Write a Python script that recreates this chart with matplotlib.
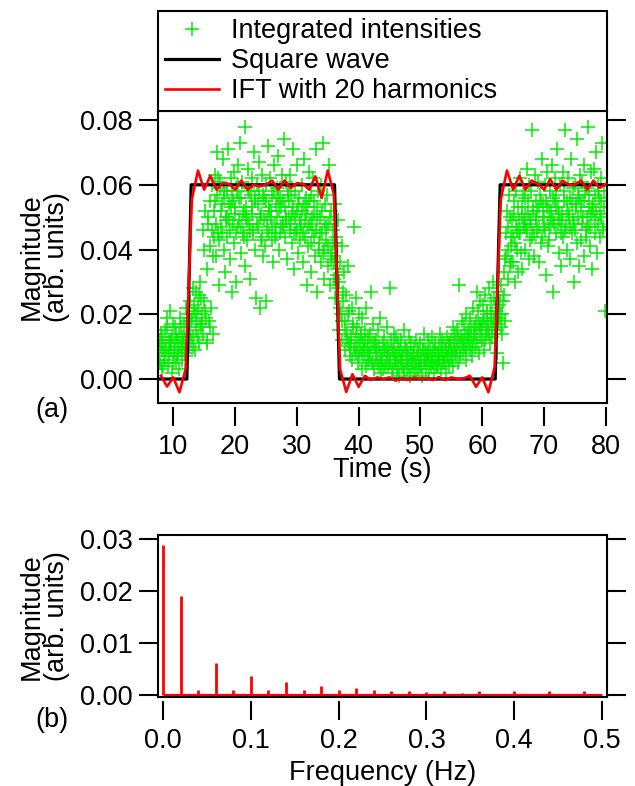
import numpy as np
import matplotlib
matplotlib.use("Agg")
import matplotlib.pyplot as plt

plt.rcParams['font.family'] = ['Liberation Sans', 'DejaVu Sans']

# integrated intensities (units of 0.001), 8 samples per second from 7.6 s to 79.8 s
intens_milli = [
    8, 12, 5, 14, 9, 3, 11, 7,
    15, 6, 10, 19, 4, 12, 8, 21,
    9, 13, 2, 17, 7, 11, 16, 5,
    12, 8, 14, 3, 19, 10, 6, 13,
    11, 17, 9, 22, 7, 14, 18, 10,
    16, 24, 12, 19, 28, 13, 21, 9,
    15, 27, 18, 22, 11, 30, 17, 25,
    20, 46, 14, 24, 52, 19, 34, 12,
    48, 18, 55, 41, 22, 60, 14, 44,
    52, 63, 38, 57, 70, 45, 29, 59,
    61, 47, 54, 68, 40, 56, 33, 50,
    44, 58, 71, 49, 37, 62, 53, 27,
    55, 42, 64, 51, 30, 58, 47, 66,
    49, 73, 56, 39, 61, 45, 52, 35,
    78, 50, 43, 59, 65, 48, 31, 57,
    53, 62, 46, 70, 40, 55, 25, 60,
    47, 58, 67, 22, 51, 44, 63, 38,
    56, 41, 24, 60, 49, 72, 45, 53,
    62, 50, 43, 57, 36, 66, 48, 54,
    45, 59, 69, 52, 40, 56, 47, 63,
    55, 48, 74, 44, 61, 50, 37, 58,
    50, 63, 46, 57, 42, 71, 53, 34,
    58, 45, 52, 66, 39, 56, 49, 43,
    47, 60, 36, 54, 68, 44, 51, 29,
    53, 41, 64, 48, 57, 33, 46, 62,
    44, 55, 38, 71, 49, 27, 58, 42,
    50, 36, 60, 45, 73, 40, 31, 54,
    43, 57, 35, 48, 66, 29, 52, 39,
    38, 46, 31, 54, 25, 42, 34, 49,
    28, 15, 36, 20, 41, 12, 24, 33,
    18, 9, 26, 14, 35, 11, 21, 7,
    13, 22, 6, 17, 47, 10, 25, 8,
    16, 5, 12, 20, 9, 14, 3, 19,
    11, 7, 15, 4, 22, 9, 13, 6,
    8, 14, 27, 5, 11, 17, 3, 10,
    12, 6, 9, 15, 4, 19, 8, 2,
    7, 11, 3, 13, 9, 5, 16, 10,
    4, 9, 28, 6, 12, 2, 8, 14,
    10, 5, 13, 3, 7, 11, 1, 9,
    6, 12, 4, 8, 15, 2, 10, 5,
    3, 9, 7, 13, 1, 6, 11, 4,
    8, 2, 10, 5, 12, 7, 3, 9,
    5, 11, 4, 7, 1, 9, 14, 6,
    9, 3, 6, 12, 8, 2, 10, 4,
    7, 13, 5, 2, 9, 11, 4, 8,
    4, 10, 6, 14, 3, 8, 12, 5,
    11, 5, 9, 2, 13, 7, 4, 10,
    6, 12, 8, 16, 4, 10, 14, 7,
    9, 15, 5, 29, 11, 7, 13, 18,
    12, 8, 17, 10, 20, 6, 14, 11,
    15, 9, 19, 13, 7, 22, 11, 16,
    10, 18, 27, 14, 21, 8, 16, 24,
    17, 12, 23, 9, 19, 26, 14, 20,
    21, 15, 28, 11, 18, 24, 13, 30,
    19, 25, 14, 22, 8, 27, 17, 23,
    24, 16, 29, 20, 5, 26, 33, 18,
    38, 52, 31, 47, 57, 35, 44, 41,
    49, 36, 55, 42, 30, 58, 46, 33,
    53, 45, 62, 39, 50, 34, 57, 48,
    40, 56, 47, 65, 51, 37, 60, 43,
    58, 44, 77, 52, 38, 63, 49, 55,
    46, 61, 53, 36, 57, 42, 68, 50,
    54, 47, 60, 32, 55, 64, 41, 52,
    43, 58, 50, 66, 27, 56, 48, 62,
    57, 45, 71, 53, 39, 60, 49, 35,
    51, 64, 44, 58, 77, 47, 55, 40,
    62, 50, 37, 56, 68, 45, 59, 30,
    48, 60, 54, 74, 42, 57, 35, 63,
    55, 43, 61, 50, 66, 38, 58, 46,
    59, 47, 78, 53, 41, 64, 51, 34,
    52, 65, 45, 57, 70, 39, 60, 48,
    56, 44, 62, 50, 73, 46, 58, 21,
]
# second pass, 4 samples per second over the same range
intens_milli_b = [
    6, 10, 13, 4,   9, 16, 7, 11,   12, 5, 9, 14,   7, 10, 16, 9,
    13, 8, 11, 20,  14, 18, 10, 23,  20, 13, 26, 16,  17, 40, 21, 11,
    50, 16, 46, 38,  55, 48, 62, 43,  52, 45, 58, 49,  50, 54, 46, 57,
    48, 53, 45, 60,  56, 47, 51, 44,  53, 49, 58, 46,  51, 45, 56, 48,
    54, 50, 43, 57,  49, 55, 46, 52,  52, 47, 58, 44,  50, 56, 45, 53,
    47, 53, 49, 57,  55, 48, 51, 45,  50, 46, 54, 48,  52, 45, 49, 56,
    47, 55, 42, 50,  51, 46, 53, 40,  45, 52, 39, 48,  47, 41, 50, 37,
    42, 36, 44, 32,  30, 22, 18, 27,  15, 12, 20, 10,  11, 16, 9, 14,
    10, 7, 13, 8,   9, 12, 6, 10,   7, 10, 5, 11,   8, 5, 10, 6,
    6, 9, 4, 8,     7, 5, 9, 3,     6, 8, 4, 7,     5, 7, 3, 9,
    6, 4, 8, 5,     7, 5, 3, 8,     4, 6, 9, 5,     6, 8, 5, 7,
    5, 9, 6, 4,     8, 6, 10, 7,    6, 9, 7, 11,    9, 7, 12, 8,
    10, 13, 8, 12,  11, 14, 9, 13,  12, 16, 10, 14,  14, 11, 17, 13,
    15, 18, 12, 16,  17, 14, 20, 16,  18, 21, 15, 19,  20, 14, 24, 37,
    45, 40, 50, 36,  44, 51, 47, 40,  49, 45, 53, 47,  51, 46, 55, 49,
    48, 53, 45, 50,  52, 47, 55, 44,  50, 46, 53, 48,  47, 52, 49, 55,
    53, 48, 51, 45,  49, 55, 46, 52,  51, 47, 54, 49,  46, 53, 50, 56,
    52, 48, 55, 44,  50, 57, 47, 53,  54, 49, 52, 58,  51, 55, 47, 53,
]
t_first, t_last = 7.6, 79.8

# square wave
sq_t = [7.6, 12.2, 12.9, 36.1, 36.9, 62.1, 62.9, 79.9]
sq_v = [0, 0, 0.06, 0.06, 0, 0, 0.06, 0.06]

# inverse FT, one value per second from 8 s to 80 s
ift_t = list(range(8, 81))
ift_v = [
    0.0010, -0.0023, 0.0005, -0.0041, 0.0030, 0.0554, 0.0644, 0.0585,
    0.0628, 0.0585, 0.0605, 0.0603, 0.0585, 0.0613, 0.0585, 0.0600,
    0.0595, 0.0600, 0.0613, 0.0585, 0.0613, 0.0590, 0.0605, 0.0603,
    0.0585, 0.0626, 0.0559, 0.0644, 0.0570, 0.0030, -0.0040, 0.0015,
    -0.0024, 0.0010, -0.0003, 0.0005, 0.0000, 0.0005, -0.0005, 0.0003,
    -0.0003, 0.0004, 0.0000, 0.0002, -0.0003, 0.0006, -0.0003, 0.0005,
    0.0000, 0.0002, 0.0010, -0.0024, 0.0005, -0.0041, 0.0036, 0.0554,
    0.0644, 0.0585, 0.0628, 0.0585, 0.0613, 0.0603, 0.0585, 0.0617,
    0.0585, 0.0613, 0.0600, 0.0600, 0.0613, 0.0585, 0.0613, 0.0590,
    0.0603,
]

# spectrum
freqs = [0.00, 0.02, 0.04, 0.06, 0.08, 0.10, 0.12, 0.14, 0.16, 0.18,
         0.20, 0.22, 0.24, 0.26, 0.28, 0.30, 0.32, 0.34, 0.36, 0.38,
         0.40, 0.42, 0.44, 0.46, 0.48]
mags = [0.0288, 0.0190, 0.0010, 0.0061, 0.0010, 0.0036, 0.0010, 0.0024,
        0.0010, 0.0017, 0.0010, 0.0013, 0.0010, 0.0008, 0.0008, 0.0006,
        0.0008, 0.0004, 0.0008, 0.0002, 0.0008, 0.0001, 0.0008, 0.0000,
        0.0008]
f_end = 0.5

GREEN = '#00ee00'
RED = '#ff0000'
FS = 19.5

fig = plt.figure(figsize=(6.35, 7.86), dpi=100)
ax1 = fig.add_axes([0.249, 0.4873, 0.707, 0.3715])
ax2 = fig.add_axes([0.249, 0.1132, 0.707, 0.2061])

t_data = np.linspace(t_first, t_last, len(intens_milli))
t_data_b = np.linspace(t_first + 0.06, t_last - 0.06, len(intens_milli_b))
ax1.plot(t_data, np.array(intens_milli) * 0.001, ls='none', marker='+',
         ms=9.5, mew=1.1, color=GREEN, zorder=1, label='Integrated intensities')
ax1.plot(t_data_b, np.array(intens_milli_b) * 0.001, ls='none', marker='+',
         ms=9.5, mew=1.1, color=GREEN, zorder=1)
ax1.plot(sq_t, sq_v, color='k', lw=2.3, zorder=2, label='Square wave')
ax1.plot(ift_t, ift_v, color=RED, lw=1.9, zorder=3, label='IFT with 20 harmonics')

ax1.set_xlim(7.55, 80.2)
ax1.set_ylim(-0.0074, 0.0828)
ax1.set_xticks([10, 20, 30, 40, 50, 60, 70, 80])
ax1.set_yticks([0, 0.02, 0.04, 0.06, 0.08])
ax1.set_yticklabels(['%.2f' % v for v in [0, 0.02, 0.04, 0.06, 0.08]])

ax2.vlines(freqs, 0, mags, color=RED, lw=2)
ax2.hlines(0, freqs[0], f_end, color=RED, lw=2.3)
ax2.set_xlim(-0.0057, 0.5057)
ax2.set_ylim(-0.0004, 0.0308)
ax2.set_xticks([0, 0.1, 0.2, 0.3, 0.4, 0.5])
ax2.set_xticklabels(['%.1f' % v for v in [0, 0.1, 0.2, 0.3, 0.4, 0.5]])
ax2.set_yticks([0, 0.01, 0.02, 0.03])
ax2.set_yticklabels(['%.2f' % v for v in [0, 0.01, 0.02, 0.03]])

for ax in (ax1, ax2):
    for s in ax.spines.values():
        s.set_linewidth(1.5)
    ax.spines['bottom'].set_position(('outward', 3))
    ax.spines['bottom'].set_visible(False)
    ax.plot([0, 1], [0, 0], transform=ax.transAxes, color='k', lw=1.5,
            clip_on=False, zorder=5)
    ax.tick_params(axis='both', direction='out', length=14, width=1.5,
                   labelsize=FS, pad=4)
    ax.tick_params(axis='y', right=True)
    ax.tick_params(axis='x', pad=5)

leg = ax1.legend(loc='lower left', bbox_to_anchor=(0, 1, 1, 0), mode='expand',
                 borderaxespad=0, fontsize=FS, fancybox=False, edgecolor='k',
                 framealpha=1, handlelength=2.0, handletextpad=0.45,
                 labelspacing=0.15, borderpad=0.25, numpoints=1)
leg.get_frame().set_linewidth(1.5)

fig.text(0.07, 0.673, 'Magnitude\n(arb. units)', rotation=90, ha='center',
         va='center', fontsize=FS, linespacing=1.0)
fig.text(0.07, 0.216, 'Magnitude\n(arb. units)', rotation=90, ha='center',
         va='center', fontsize=FS, linespacing=1.0)
fig.text(0.602, 0.402, 'Time (s)', ha='center', va='center', fontsize=FS)
fig.text(0.602, 0.0165, 'Frequency (Hz)', ha='center', va='center', fontsize=FS)
fig.text(0.082, 0.478, '(a)', ha='center', va='center', fontsize=FS)
fig.text(0.082, 0.084, '(b)', ha='center', va='center', fontsize=FS)

fig.savefig('out.png', dpi=100)
